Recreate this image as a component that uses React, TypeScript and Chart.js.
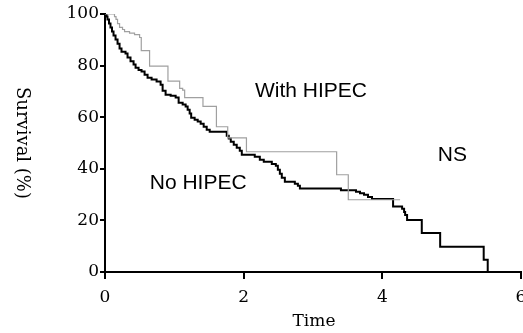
import React, { useEffect, useRef } from "react";
import { Chart, registerables } from "chart.js";

Chart.register(...registerables);

// No HIPEC (black): time of each drop, survival after drop
const noHipecTime = [0, 0.022, 0.036, 0.058, 0.079, 0.101, 0.123, 0.152, 0.181, 0.21, 0.238, 0.296, 0.325, 0.368, 0.412, 0.441, 0.484, 0.527, 0.571, 0.614, 0.672, 0.744, 0.802, 0.831, 0.874, 0.947, 1.019, 1.062, 1.12, 1.163, 1.192, 1.221, 1.243, 1.293, 1.337, 1.38, 1.423, 1.467, 1.51, 1.756, 1.785, 1.814, 1.857, 1.9, 1.944, 1.973, 2.16, 2.233, 2.29, 2.406, 2.464, 2.493, 2.522, 2.55, 2.594, 2.738, 2.782, 2.811, 3.403, 3.62, 3.678, 3.736, 3.793, 3.851, 4.155, 4.285, 4.314, 4.329, 4.357, 4.569, 4.834, 5.462, 5.52];
const noHipecSurv = [100, 99, 97.9, 96.3, 94.8, 93.2, 91.7, 90.1, 88.5, 86.6, 85.4, 84.7, 83.1, 81.7, 80.4, 79.2, 78.3, 77.7, 76.5, 75.3, 74.6, 73.8, 72.6, 70.3, 68.7, 68.3, 67.6, 65.6, 64.9, 64.1, 62.9, 61.4, 59.8, 59, 58.3, 57.5, 56.3, 55.1, 54.4, 52.8, 51.7, 50.5, 49.3, 48.2, 47, 45.4, 44.7, 43.5, 42.7, 41.9, 41.2, 39.6, 38.1, 36.5, 35, 34.2, 33.4, 32.4, 31.7, 31.1, 30.5, 29.9, 29.1, 28.3, 25.4, 24.5, 23.3, 22.1, 20.2, 15.1, 9.8, 4.7, 0];

// With HIPEC (grey)
const withHipecTime = [0, 0.137, 0.159, 0.181, 0.21, 0.253, 0.282, 0.354, 0.426, 0.499, 0.523, 0.643, 0.908, 1.077, 1.12, 1.149, 1.413, 1.607, 1.77, 2.04, 3.341, 3.509, 4.256];
const withHipecSurv = [100, 99, 97.9, 96.3, 94.8, 94, 93.2, 92.6, 92, 90.9, 85.8, 79.8, 74, 71.2, 70.5, 67.6, 64.2, 56.3, 52, 46.6, 37.7, 28, 28];

const xTicks = [0, 2, 4, 6];
const yTicks = [0, 20, 40, 60, 80, 100];

const annotations = [
  { text: "With HIPEC", t: 2.97, s: 70.1 },
  { text: "No HIPEC", t: 1.344, s: 34.4 },
  { text: "NS", t: 5.01, s: 45.4 },
];

const xTitle = "Time";
const yTitle = "Survival (%)";

const serif = "'DejaVu Serif', 'Liberation Serif', serif";

export default function App() {
  const ref = useRef<HTMLCanvasElement | null>(null);

  useEffect(() => {
    if (!ref.current) return;
    const textPlugin = {
      id: "texts",
      afterDraw(chart: any) {
        const ctx = chart.ctx;
        const xs = chart.scales.x;
        const ys = chart.scales.y;
        ctx.save();
        ctx.fillStyle = "#000";
        ctx.textAlign = "center";
        ctx.textBaseline = "middle";
        ctx.font = "21px 'Liberation Sans', Arial, sans-serif";
        annotations.forEach((a) => {
          ctx.fillText(a.text, xs.getPixelForValue(a.t), ys.getPixelForValue(a.s));
        });
        ctx.font = "17px " + serif;
        ctx.fillText(xTitle, (xs.left + xs.right) / 2 + 1, 322);
        ctx.translate(22, (ys.top + ys.bottom) / 2);
        ctx.rotate(Math.PI / 2);
        ctx.font = "18px " + serif;
        ctx.fillText(yTitle, 0, 0);
        ctx.restore();
      },
    };

    const chart = new Chart(ref.current, {
      type: "line",
      data: {
        datasets: [
          {
            label: "With HIPEC",
            data: withHipecTime.map((t, i) => ({ x: t, y: withHipecSurv[i] })),
            borderColor: "#a0a0a0",
            borderWidth: 1.2,
            stepped: "before",
            pointRadius: 0,
            fill: false,
          },
          {
            label: "No HIPEC",
            data: noHipecTime.map((t, i) => ({ x: t, y: noHipecSurv[i] })),
            borderColor: "#000",
            borderWidth: 2,
            stepped: "before",
            pointRadius: 0,
            fill: false,
          },
        ],
      },
      options: {
        animation: false,
        responsive: false,
        layout: { padding: { left: 0, top: 14, right: 19, bottom: 0 } },
        plugins: { legend: { display: false }, tooltip: { enabled: false } },
        scales: {
          x: {
            type: "linear",
            min: 0,
            max: 6,
            afterBuildTicks: (s: any) => {
              s.ticks = xTicks.map((v) => ({ value: v }));
            },
            afterFit: (s: any) => {
              s.height = 61;
            },
            ticks: {
              color: "#000",
              font: { family: serif, size: 17 },
              padding: 8,
              maxRotation: 0,
            },
            grid: { drawOnChartArea: false, drawTicks: true, tickLength: 7, color: "#000", lineWidth: 2 },
            border: { display: true, color: "#000", width: 2 },
          },
          y: {
            type: "linear",
            min: 0,
            max: 100,
            afterBuildTicks: (s: any) => {
              s.ticks = yTicks.map((v) => ({ value: v }));
            },
            afterFit: (s: any) => {
              s.width = 105;
            },
            ticks: {
              color: "#000",
              font: { family: serif, size: 17 },
              padding: 1,
            },
            grid: { drawOnChartArea: false, drawTicks: true, tickLength: 5, color: "#000", lineWidth: 2 },
            border: { display: true, color: "#000", width: 2 },
          },
        },
      },
      plugins: [textPlugin],
    });
    return () => chart.destroy();
  }, []);

  return (
    <div style={{ position: "fixed", left: 0, top: 0, width: 523, height: 333, overflow: "hidden", background: "#fff" }}>
      <canvas ref={ref} width={540} height={333} style={{ display: "block" }} />
    </div>
  );
}
